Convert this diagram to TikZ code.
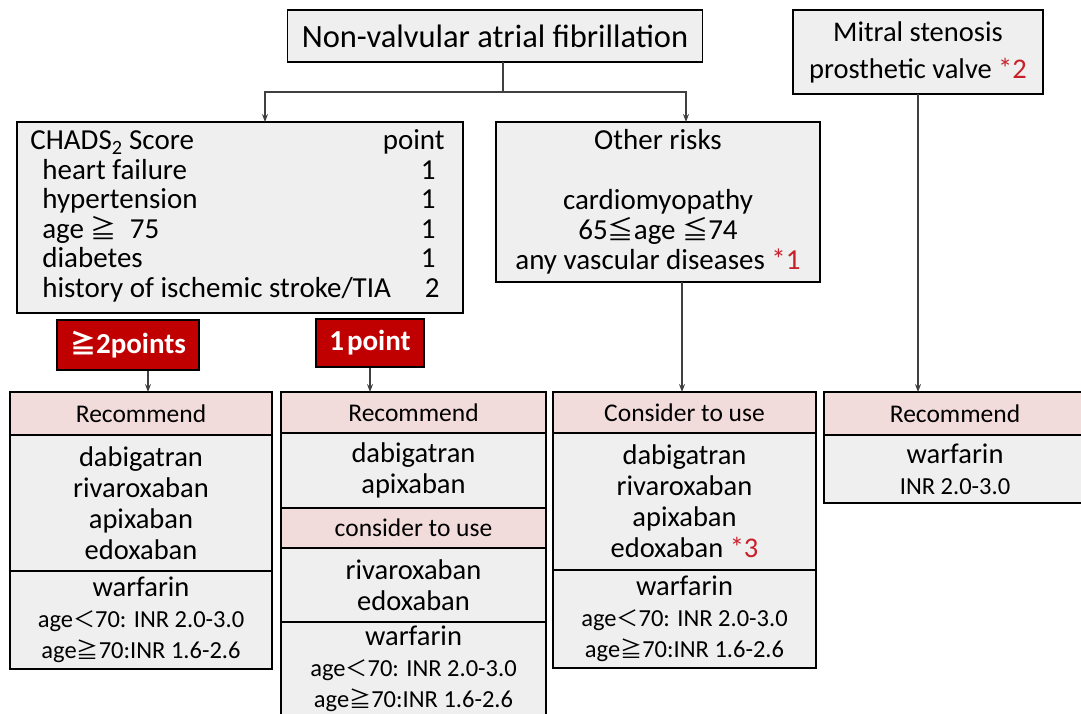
\documentclass[tikz,border=0pt]{standalone}
\usepackage{fontspec}
\setmainfont{Carlito}
\newfontfamily\cjk[Scale=0.9]{Noto Sans CJK JP}
\usepackage{tikz}
\usetikzlibrary{positioning,arrows.meta}

\definecolor{boxgray}{HTML}{EFEFEF}
\definecolor{headpink}{HTML}{F2DCDB}
\definecolor{badgered}{HTML}{C00000}
\definecolor{notered}{HTML}{C8202A}
\newcommand{\geqj}{{\cjk ≧}}
\newcommand{\leqj}{{\cjk ≦}}
\newcommand{\ltj}{{\cjk ＜}}
\newcommand{\note}[1]{\textcolor{notered}{*#1}}
\newcommand{\sm}{\fontsize{24.5}{28}\selectfont}

\begin{document}
\begin{tikzpicture}[x=1pt,y=-1pt,
  box/.style={draw=black, line width=1.8pt, fill=boxgray, inner sep=0pt, outer sep=0pt, align=center},
  head/.style={box, fill=headpink, font=\fontsize{25.5}{28}\selectfont},
  cell/.style={box, font=\fontsize{28.5}{31}\selectfont},
  badge/.style={draw=black, line width=2.2pt, fill=badgered, text=white, inner sep=0pt,
    font=\bfseries\fontsize{29}{30}\selectfont},
  link/.style={draw=black!75, line width=1.1pt, -{Stealth[length=8pt,width=6pt]}}]
\useasboundingbox (0,0) rectangle (1081,713);

% top row
\node[box, minimum width=415, minimum height=52, font=\fontsize{32.5}{36}\selectfont] (nvaf) at (495,36) {Non-valvular atrial fibrillation};
\node[box, minimum width=250, minimum height=84, font=\fontsize{28.5}{37}\selectfont] (mitral) at (918,52) {Mitral stenosis\\prosthetic valve \note{2}};

% score and risks
\node[box, minimum width=446, minimum height=191, font=\fontsize{29}{29.5}\selectfont] (chads) at (240,217.5)
  {\begin{tabular}{@{}l@{\hspace{30pt}}r@{}}
   CHADS\textsubscript{2} Score & \makebox[0pt][r]{point\kern-5pt}\\[0.5pt]
   \hspace{12pt}heart failure & 1\kern4pt\\
   \hspace{12pt}hypertension & 1\kern4pt\\
   \hspace{12pt}age \smash{\geqj}\ \ 75 & 1\kern4pt\\
   \hspace{12pt}diabetes & 1\kern4pt\\
   \hspace{12pt}history of ischemic stroke/TIA & 2
   \end{tabular}\kern10pt};
\node[box, minimum width=324, minimum height=160, font=\fontsize{29}{30}\selectfont] (other) at (658,202)
  {Other risks\\[30pt]cardiomyopathy\\65\leqj age \leqj 74\\any vascular diseases \note{1}};

% badges
\node[badge, minimum width=142, minimum height=50] (two) at (128,345) {\geqj2points};
\node[badge, minimum width=108, minimum height=48] (one) at (370,343) {1\hspace{3pt}point};

% column 1
\node[head, minimum width=262, minimum height=43, anchor=north] (rec1) at (141,392) {Recommend};
\node[cell, minimum width=262, minimum height=136, below=0pt of rec1] (drug1) {dabigatran\\rivaroxaban\\apixaban\\edoxaban};
\node[cell, minimum width=262, minimum height=98, below=0pt of drug1] (warf1)
  {warfarin\\{\sm age\ltj70: INR 2.0-3.0}\\{\sm age\geqj70:INR 1.6-2.6}};

% column 2
\node[head, minimum width=265, minimum height=41, anchor=north] (rec2) at (413.5,392) {Recommend};
\node[cell, minimum width=265, minimum height=75, below=0pt of rec2] (drug2) {dabigatran\\apixaban};
\node[head, minimum width=265, minimum height=40, below=0pt of drug2] (con2) {consider to use};
\node[cell, minimum width=265, minimum height=74, below=0pt of con2] (alt2) {rivaroxaban\\edoxaban};
\node[cell, minimum width=265, minimum height=94, below=0pt of alt2] (warf2)
  {warfarin\\{\sm age\ltj70: INR 2.0-3.0}\\{\sm age\geqj70:INR 1.6-2.6}};

% column 3
\node[head, minimum width=263, minimum height=41, anchor=north] (con3) at (684.5,392) {Consider to use};
\node[cell, minimum width=263, minimum height=137, below=0pt of con3] (drug3) {dabigatran\\rivaroxaban\\apixaban\\edoxaban \note{3}};
\node[cell, minimum width=263, minimum height=98, below=0pt of drug3] (warf3)
  {warfarin\\{\sm age\ltj70: INR 2.0-3.0}\\{\sm age\geqj70:INR 1.6-2.6}};

% column 4
\node[head, minimum width=262, minimum height=43, anchor=north] (rec4) at (955,392) {Recommend};
\node[cell, minimum width=262, minimum height=68, below=0pt of rec4] (warf4) {warfarin\\{\sm INR 2.0-3.0}};

% connectors
\coordinate (split) at (503,92);
\draw[draw=black!75, line width=1.1pt] (nvaf.south -| split) -- (split);
\draw[link] (split) -| ([xshift=25pt]chads.north);
\draw[link] (split) -| ([xshift=28pt]other.north);
\draw[link] ([xshift=20pt]two.south) -- ([xshift=20pt]two.south |- rec1.north);
\draw[link] (one.south) -- (one.south |- rec2.north);
\draw[link] ([xshift=24pt]other.south) -- ([xshift=24pt]other.south |- con3.north);
\draw[link] (mitral.south) -- (mitral.south |- rec4.north);
\end{tikzpicture}
\end{document}
